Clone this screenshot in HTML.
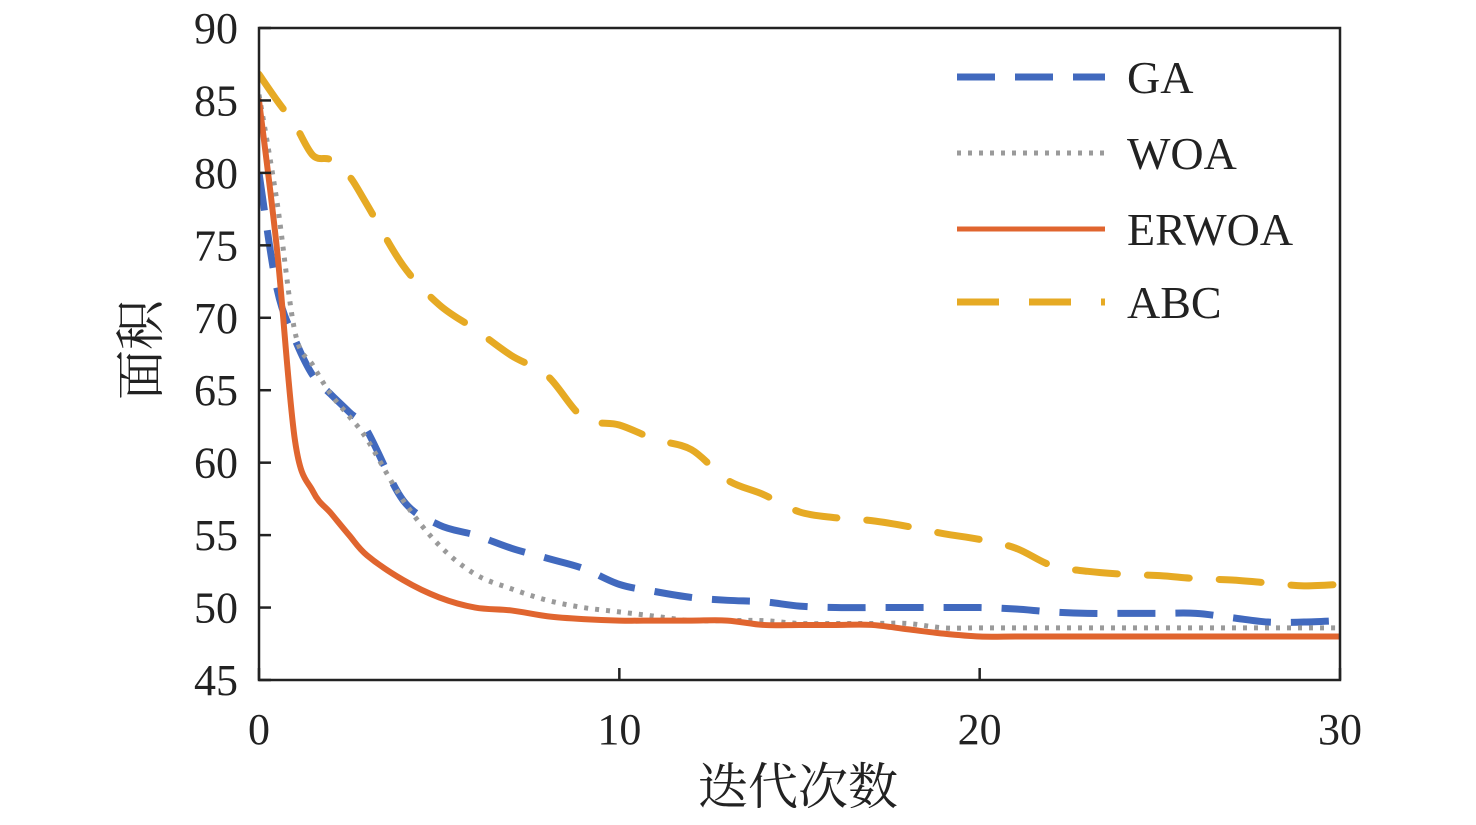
<!DOCTYPE html>
<html><head><meta charset="utf-8"><style>
body{margin:0;background:#fff;width:1476px;height:820px;overflow:hidden}
svg text{font-family:"Liberation Serif","Noto Serif CJK SC",serif;fill:#222}
</style></head><body>
<svg id="c" width="1476" height="820"></svg>
<script>
const xs=[0,0.5,1,1.5,2,2.5,3,4,5,6,7,8,9,10,11,12,13,14,15,16,17,18,19,20,21,22,23,24,25,26,27,28,29,30];
const gaVals=[80,72,68.5,66,64.7,63.5,62.2,57.4,55.7,55,54.1,53.4,52.7,51.6,51.1,50.7,50.5,50.4,50.1,50,50,50,50,50,49.9,49.7,49.6,49.6,49.6,49.6,49.3,49.0,49.0,49.1];
const woaVals=[85.4,78,69,66.7,64.7,63.2,61.6,57.4,54.3,52.3,51.3,50.5,50.0,49.7,49.4,49.1,49.1,49.1,48.9,48.9,48.9,48.9,48.6,48.6,48.6,48.6,48.6,48.6,48.6,48.6,48.6,48.6,48.6,48.6];
const erwoaVals=[85,74.7,61.5,58,56.5,55,53.6,51.9,50.7,50,49.8,49.4,49.2,49.1,49.1,49.1,49.1,48.8,48.8,48.8,48.8,48.5,48.2,48,48,48,48,48,48,48,48,48,48,48];
const abcVals=[86.8,85,83.3,81.2,80.9,79.8,77.8,73.6,70.9,69.2,67.4,66,63.1,62.6,61.6,60.9,58.8,57.8,56.6,56.2,56,55.6,55.1,54.7,54.1,52.9,52.5,52.3,52.2,52,51.9,51.7,51.5,51.6];
const yTicks=[45,50,55,60,65,70,75,80,85,90];
const xTicks=[0,10,20,30];
const X0=259,X1=1340,Y0=680,Y1=28;
const sx=v=>X0+(v-0)/30*(X1-X0);
const sy=v=>Y0-(v-45)/45*(Y0-Y1);
const svg=document.getElementById('c');
const NS='http://www.w3.org/2000/svg';
function mk(t,a){const e=document.createElementNS(NS,t);for(const k in a)e.setAttribute(k,a[k]);svg.appendChild(e);return e;}
function path(vals){
  const p=xs.map((x,i)=>[sx(x),sy(vals[i])]);
  let d='M'+p[0][0]+','+p[0][1];
  for(let i=0;i<p.length-1;i++){
    const p0=p[i-1]||p[i],p1=p[i],p2=p[i+1],p3=p[i+2]||p2;
    const c1=[p1[0]+(p2[0]-p0[0])/6,p1[1]+(p2[1]-p0[1])/6];
    const c2=[p2[0]-(p3[0]-p1[0])/6,p2[1]-(p3[1]-p1[1])/6];
    d+=' C'+c1+' '+c2+' '+p2;
  }
  return d;
}
const series=[
 {n:'abc',v:abcVals,c:'#E6AA24',w:7,da:'42 30',cap:'round'},
 {n:'ga',v:gaVals,c:'#4169BE',w:7,da:'38 20',cap:'butt'},
 {n:'woa',v:woaVals,c:'#9A9A9A',w:5,da:'4 7',cap:'butt'},
 {n:'erwoa',v:erwoaVals,c:'#E0652F',w:6,da:'none',cap:'round'}
];
mk('defs',{}).innerHTML='<clipPath id="cp"><rect x="259" y="20" width="1081" height="660"/></clipPath>';
series.forEach(s=>{
  const e=mk('path',{d:path(s.v),fill:'none',stroke:s.c,'stroke-width':s.w,'stroke-dasharray':s.da,'stroke-linecap':s.cap,'stroke-linejoin':'round','clip-path':'url(#cp)'});
  
  
});
const fr=mk('rect',{x:X0,y:Y1,width:X1-X0,height:Y0-Y1,fill:'none',stroke:'#222','stroke-width':2.5});


yTicks.forEach(v=>{
  const y=sy(v);
  const l=mk('line',{x1:X0,x2:X0+12,y1:y,y2:y,stroke:'#222','stroke-width':2.5});
  
  
  const t=mk('text',{x:238,y:y+15,'text-anchor':'end','font-size':44});
  t.textContent=v;
  
  
});
xTicks.forEach(v=>{
  const x=sx(v);
  const l=mk('line',{x1:x,x2:x,y1:Y0,y2:Y0-12,stroke:'#222','stroke-width':2.5});
  
  
  const t=mk('text',{x:x,y:744,'text-anchor':'middle','font-size':44});
  t.textContent=v;
  
  
});
const xt=mk('text',{x:798,y:804,'text-anchor':'middle','font-size':50});
xt.textContent='迭代次数';


const yt=mk('text',{x:0,y:0,'text-anchor':'middle','font-size':50,transform:'translate(158,350) rotate(-90)'});
yt.textContent='面积';


const leg=[['GA','#4169BE',7,'38 20',77],['WOA','#9A9A9A',5,'4 7',153],['ERWOA','#E0652F',5,'none',229],['ABC','#E6AA24',7,'42 30',302]];
leg.forEach(l=>{
  const ln=mk('line',{x1:957,x2:1105,y1:l[4],y2:l[4],stroke:l[1],'stroke-width':l[2],'stroke-dasharray':l[3]});
  
  
  const t=mk('text',{x:1127,y:l[4]+16,'font-size':46});
  t.textContent=l[0];
  
  
});
</script>
</body></html>
